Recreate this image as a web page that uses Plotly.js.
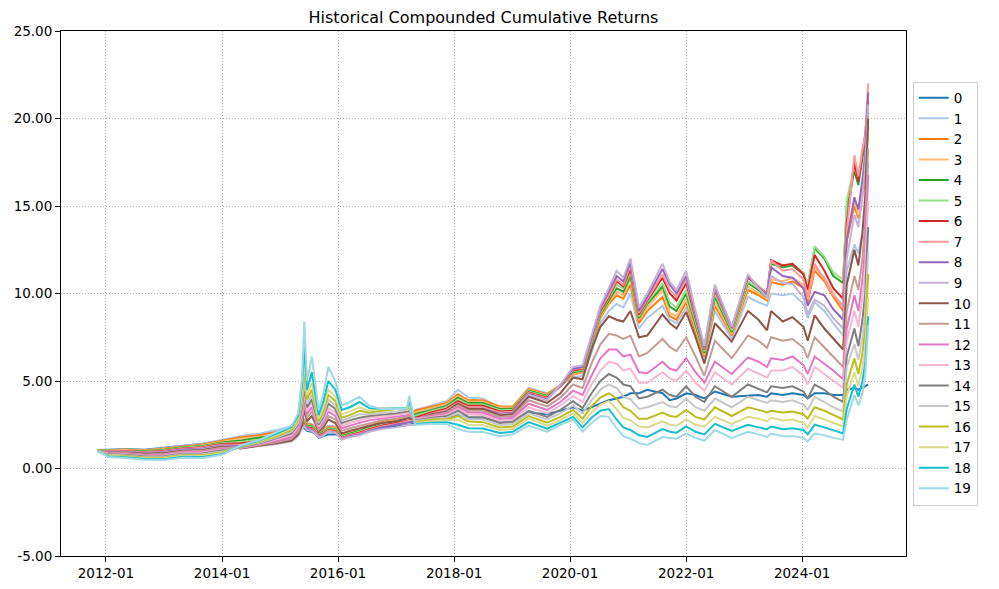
<!DOCTYPE html>
<html>
<head>
<meta charset="utf-8">
<script src="https://cdn.plot.ly/plotly-3.0.1.min.js"></script>
<style>html,body{margin:0;padding:0;background:#fff;}#chart{width:999px;height:589px;}</style>
</head>
<body>
<div id="chart"></div>
<script>
const dates = ["2011-11-10","2012-01-15","2012-05-01","2012-09-01","2013-01-01","2013-05-01","2013-09-01","2014-01-01","2014-05-01","2014-09-01",
"2014-12-15","2015-03-15","2015-04-25","2015-05-20","2015-06-03","2015-06-20","2015-07-20","2015-08-10","2015-09-01","2015-10-01",
"2015-11-01","2015-12-15","2016-01-25","2016-03-15","2016-05-15","2016-07-15","2016-10-01","2017-01-01","2017-03-10","2017-03-25",
"2017-05-01","2017-08-15","2017-11-15","2018-01-25","2018-04-01","2018-07-01","2018-10-15","2019-01-05","2019-04-15","2019-08-10",
"2019-11-01","2020-01-20","2020-03-20","2020-05-15","2020-07-10","2020-09-01","2020-10-20","2020-12-01","2021-01-15","2021-03-10",
"2021-05-01","2021-08-05","2021-09-20","2021-11-01","2022-01-01","2022-03-01","2022-04-25","2022-07-01","2022-10-15","2023-01-25",
"2023-04-01","2023-05-25","2023-06-20","2023-09-01","2023-11-01","2024-01-10","2024-02-05","2024-03-20","2024-05-20","2024-07-15",
"2024-09-15","2024-10-08","2024-11-25","2024-12-20","2025-01-15","2025-02-01","2025-02-20"];

const s0 = [1.04,1.08,1.12,1.07,1.18,1.32,1.42,1.60,1.78,1.90, 2.08,2.25,2.45,2.50,2.30,2.15,2.10,2.00,1.75,1.85, 1.95,1.95,1.80,1.90,2.00,2.15,2.30,2.40,2.50,2.50, 2.60,2.75,2.90,3.10,2.90,2.90,2.70,2.75,3.20,3.10, 3.30,3.50,3.30,3.50,3.70,3.90,4.00,4.10,4.30,4.30, 4.50,4.30,3.90,4.00,4.30,4.20,4.00,4.40,4.10,4.15, 4.20,4.10,4.30,4.20,4.30,4.20,4.00,4.30,4.30,4.20, 4.20,4.50,4.60,4.50,4.60,4.70,4.80];
const s1 = [1.04,1.07,1.10,1.05,1.16,1.31,1.42,1.64,1.86,2.00, 2.20,2.40,2.70,2.75,2.80,2.60,2.55,2.40,2.10,2.25, 2.45,2.40,2.00,2.15,2.30,2.50,2.70,2.85,3.00,3.00, 3.35,3.60,3.85,4.50,4.05,4.00,3.50,3.50,4.60,4.30, 4.75,5.20,5.30,6.60,8.30,9.00,9.40,9.20,10.00,8.00, 8.60,9.30,8.50,8.30,9.20,7.60,6.30,9.00,7.40,9.80, 9.50,9.30,10.00,9.90,10.00,9.40,8.60,9.50,9.00,8.30, 7.60,11.30,12.80,12.30,13.50,14.50,17.50];
const s2 = [1.03,1.05,1.08,1.03,1.13,1.27,1.37,1.58,1.78,1.92, 2.10,2.30,2.60,2.70,2.75,2.55,2.50,2.35,2.05,2.20, 2.40,2.35,1.95,2.10,2.25,2.45,2.65,2.80,2.95,2.95, 3.30,3.52,3.75,4.25,3.90,3.90,3.55,3.55,4.55,4.25, 4.75,5.35,5.50,6.90,8.60,9.40,9.90,9.70,10.50,8.30, 9.00,9.80,8.70,8.50,9.50,7.80,6.40,9.30,7.60,10.20, 9.90,9.60,10.65,10.50,10.70,10.30,9.50,11.30,10.70,9.80, 9.00,13.00,15.00,14.30,15.50,16.50,19.50];
const s3 = [1.03,1.04,1.06,1.00,1.10,1.24,1.33,1.53,1.70,1.83, 2.00,2.20,2.50,2.60,2.70,2.50,2.45,2.30,2.00,2.15, 2.35,2.30,1.90,2.05,2.20,2.40,2.60,2.75,2.90,2.90, 3.20,3.45,3.67,4.15,3.82,3.82,3.48,3.48,4.50,4.20, 4.72,5.40,5.55,7.00,8.70,9.50,10.10,9.90,10.80,8.50, 9.20,10.20,8.90,8.70,9.70,8.00,6.50,9.50,7.70,10.40, 10.00,9.70,10.80,10.70,10.90,10.50,9.70,11.50,10.90,10.00, 9.20,13.20,15.30,14.50,15.70,16.80,19.80];
const s4 = [1.03,1.02,1.04,0.98,1.07,1.21,1.29,1.48,1.60,1.74, 1.90,2.10,2.40,2.55,2.65,2.45,2.40,2.25,1.96,2.10, 2.30,2.25,1.85,2.00,2.15,2.35,2.55,2.70,2.85,2.85, 3.10,3.38,3.58,4.05,3.74,3.74,3.40,3.42,4.45,4.15, 4.70,5.50,5.60,7.10,8.80,9.60,10.30,10.10,11.00,8.60, 9.40,10.40,9.25,9.00,10.00,8.20,6.60,9.80,7.80,10.60, 10.20,9.80,11.70,11.50,11.60,11.10,10.40,12.60,12.00,11.00, 10.60,15.00,17.00,16.20,17.80,18.50,20.30];
const s5 = [1.03,1.01,1.02,0.96,1.04,1.18,1.26,1.44,1.52,1.65, 1.80,2.00,2.30,2.50,2.60,2.40,2.35,2.20,1.92,2.05, 2.25,2.20,1.80,1.95,2.10,2.30,2.50,2.65,2.80,2.80, 3.00,3.30,3.50,3.95,3.66,3.66,3.33,3.36,4.40,4.10, 4.68,5.55,5.65,7.20,8.90,9.70,10.50,10.30,11.20,8.70, 9.50,10.60,9.50,9.20,10.20,8.40,6.70,10.00,7.90,10.70, 10.30,9.90,11.80,11.60,11.70,11.20,10.50,12.70,12.10,11.20, 10.80,15.30,17.30,16.50,18.30,18.80,20.50];
const s6 = [1.02,0.99,1.00,0.93,1.01,1.14,1.22,1.40,1.44,1.56, 1.70,1.90,2.20,2.45,2.55,2.35,2.30,2.15,1.88,2.00, 2.20,2.15,1.75,1.90,2.05,2.25,2.45,2.60,2.75,2.75, 2.90,3.22,3.42,3.85,3.58,3.58,3.26,3.30,4.35,4.05, 4.70,5.60,5.70,7.30,9.00,9.80,10.70,10.40,11.40,8.80, 9.60,10.90,10.00,9.60,10.60,8.60,6.80,10.20,8.00,10.90, 10.40,10.00,11.90,11.60,11.70,11.10,10.20,12.20,11.30,10.30, 9.70,14.00,17.50,16.40,18.00,19.10,21.00];
const s7 = [1.02,0.98,0.98,0.91,0.98,1.11,1.18,1.36,1.36,1.47, 1.60,1.80,2.10,2.40,2.50,2.30,2.25,2.10,1.84,1.95, 2.15,2.10,1.72,1.87,2.00,2.20,2.40,2.55,2.70,2.70, 2.80,3.15,3.35,3.75,3.50,3.50,3.20,3.24,4.30,4.00, 4.72,5.65,5.75,7.35,9.10,9.90,10.80,10.50,11.60,8.90, 9.70,11.10,10.20,9.80,10.80,8.70,6.85,10.30,8.00,11.00, 10.40,9.95,11.90,11.30,11.40,10.80,9.80,11.70,10.80,9.90, 9.30,13.50,17.90,16.70,18.20,19.00,22.00];
const s8 = [1.02,0.96,0.96,0.88,0.95,1.08,1.14,1.31,1.28,1.38, 1.50,1.70,2.00,2.35,2.45,2.25,2.20,2.05,1.80,1.90, 2.10,2.05,1.68,1.84,1.95,2.15,2.35,2.50,2.62,2.62, 2.70,3.05,3.27,3.65,3.42,3.42,3.13,3.18,4.25,3.95, 4.75,5.70,5.80,7.45,9.20,10.10,11.00,10.70,11.80,9.00, 9.80,11.40,10.50,10.00,11.00,8.85,6.90,10.40,8.05,11.00, 10.35,9.90,11.50,11.00,10.90,10.30,9.30,10.10,9.90,9.10, 8.50,13.00,15.50,14.80,16.50,18.00,21.50];
const s9 = [1.02,0.95,0.94,0.86,0.92,1.05,1.10,1.27,1.18,1.28, 1.40,1.55,1.85,2.30,2.40,2.20,2.15,2.00,1.78,1.88, 2.10,2.05,1.65,1.80,1.90,2.10,2.25,2.35,2.50,2.50, 2.50,2.95,3.20,3.55,3.35,3.35,3.08,3.12,4.20,3.90, 4.80,5.80,5.90,7.60,9.30,10.30,11.30,10.90,12.00,9.20, 10.00,11.70,10.65,10.20,11.30,9.00,7.00,10.50,8.10,11.10, 10.30,9.80,11.00,10.60,10.55,9.80,8.80,9.65,9.30,8.60, 8.00,12.00,14.50,13.80,15.50,17.20,20.80];
const s10 = [1.02,0.93,0.92,0.84,0.88,1.02,1.06,1.24,1.15,1.30, 1.45,1.60,1.95,2.50,3.40,2.70,3.00,2.60,2.10,2.35, 2.80,2.60,2.00,2.15,2.30,2.45,2.60,2.70,2.85,2.90, 2.80,3.10,3.25,3.70,3.40,3.40,3.05,3.10,4.10,3.75, 4.30,5.20,5.10,6.80,8.10,8.70,8.50,8.40,9.00,7.50, 7.60,8.80,8.30,8.00,8.95,7.50,6.00,8.30,7.25,9.00, 8.50,7.90,9.00,8.40,8.65,8.10,7.30,8.75,8.00,7.40, 6.80,10.50,12.50,11.60,13.50,15.50,20.00];
const s11 = [1.02,0.90,0.88,0.80,0.83,0.97,1.01,1.18,1.17,1.34, 1.52,1.70,2.10,2.75,3.75,2.90,3.25,2.80,2.20,2.50, 3.00,2.80,2.15,2.30,2.45,2.60,2.75,2.85,2.95,3.00, 2.85,3.05,3.20,3.60,3.30,3.30,2.95,3.00,3.90,3.55, 4.05,4.80,4.60,6.00,7.10,7.70,7.60,7.40,7.60,6.40, 6.60,7.40,6.95,6.70,7.50,6.40,5.30,7.30,6.30,7.60, 7.30,6.90,7.50,7.30,7.40,6.90,6.30,7.50,6.90,6.40, 5.80,9.00,11.00,10.20,12.00,14.00,18.30];
const s12 = [1.01,0.87,0.85,0.76,0.79,0.93,0.96,1.13,1.18,1.38, 1.59,1.80,2.25,3.00,4.10,3.10,3.50,3.00,2.30,2.65, 3.25,3.00,2.30,2.45,2.60,2.75,2.85,2.95,3.05,3.10, 2.85,3.00,3.12,3.50,3.20,3.18,2.83,2.90,3.70,3.35, 3.80,4.45,4.20,5.30,6.30,6.80,6.80,6.40,6.50,5.50, 5.45,6.10,5.70,5.60,6.30,5.50,4.90,6.10,5.40,6.35, 6.10,5.80,6.30,6.20,6.40,5.90,5.40,6.40,6.00,5.60, 5.10,8.00,9.90,9.00,10.80,12.60,16.80];
const s13 = [1.01,0.84,0.81,0.72,0.74,0.88,0.91,1.07,1.20,1.42, 1.66,1.90,2.40,3.25,4.40,3.30,3.75,3.15,2.40,2.80, 3.45,3.20,2.45,2.60,2.75,2.90,2.95,3.05,3.15,3.20, 2.80,2.95,3.05,3.40,3.08,3.06,2.72,2.78,3.50,3.15, 3.60,4.15,3.80,4.80,5.60,6.10,6.00,5.60,5.70,4.90, 4.90,5.50,5.15,5.00,5.60,4.90,4.45,5.50,4.80,5.70, 5.45,5.20,5.60,5.60,5.80,5.30,4.80,5.80,5.40,5.00, 4.60,7.30,9.00,8.10,9.80,11.50,15.30];
const s14 = [1.01,0.81,0.78,0.68,0.70,0.84,0.86,1.02,1.22,1.46, 1.73,2.00,2.50,3.50,4.70,3.50,3.95,3.30,2.50,2.95, 3.70,3.40,2.60,2.75,2.90,3.00,3.05,3.15,3.25,3.30, 2.75,2.90,2.98,3.30,2.95,2.93,2.60,2.66,3.30,2.95, 3.35,3.85,3.45,4.30,5.00,5.40,5.20,4.80,4.70,4.00, 4.10,4.50,4.20,4.10,4.70,4.10,3.80,4.70,4.10,4.80, 4.55,4.35,4.70,4.60,4.70,4.40,4.00,4.80,4.50,4.10, 3.80,6.40,8.00,7.00,8.50,10.00,13.80];
const s15 = [1.00,0.78,0.74,0.64,0.66,0.80,0.81,0.97,1.24,1.50, 1.80,2.10,2.60,3.80,5.10,3.70,4.20,3.50,2.60,3.10, 3.95,3.60,2.75,2.90,3.10,3.10,3.15,3.25,3.35,3.40, 2.70,2.85,2.90,3.15,2.82,2.80,2.48,2.54,3.15,2.80, 3.15,3.60,3.15,3.90,4.50,4.80,4.60,4.10,3.95,3.40, 3.50,3.80,3.55,3.50,4.00,3.50,3.30,4.00,3.50,4.10, 3.90,3.75,3.90,3.80,3.90,3.65,3.35,4.10,3.80,3.50, 3.25,5.80,7.10,6.20,7.50,8.90,12.40];
const s16 = [1.00,0.75,0.71,0.61,0.62,0.76,0.76,0.92,1.26,1.54, 1.87,2.20,2.75,4.10,5.60,3.95,4.50,3.70,2.70,3.30, 4.20,3.85,2.90,3.05,3.30,3.20,3.30,3.40,3.42,3.50, 2.65,2.80,2.82,3.00,2.68,2.65,2.34,2.40,3.00,2.62, 2.95,3.35,2.85,3.55,4.05,4.30,4.00,3.50,3.30,2.85, 2.85,3.20,3.00,2.95,3.35,2.95,2.80,3.50,3.00,3.50, 3.35,3.20,3.30,3.20,3.25,3.10,2.85,3.50,3.30,3.05, 2.80,4.80,6.30,5.40,6.60,7.90,11.10];
const s17 = [1.00,0.72,0.67,0.57,0.58,0.71,0.71,0.87,1.28,1.58, 1.94,2.30,2.85,4.40,6.20,4.20,4.90,3.95,2.85,3.50, 4.50,4.10,3.10,3.25,3.50,3.30,3.45,3.45,3.45,3.60, 2.60,2.70,2.74,2.80,2.50,2.48,2.20,2.26,2.85,2.45, 2.78,3.15,2.60,3.20,3.65,3.85,3.40,2.90,2.75,2.40, 2.35,2.70,2.50,2.45,2.80,2.50,2.40,2.95,2.55,2.95, 2.85,2.70,2.90,2.75,2.80,2.60,2.35,3.00,2.80,2.60, 2.40,4.10,5.50,4.70,5.80,6.90,9.80];
const s18 = [0.99,0.69,0.64,0.54,0.53,0.67,0.66,0.82,1.30,1.62, 2.01,2.38,3.00,4.80,7.00,4.50,5.50,4.30,3.05,3.85, 5.00,4.50,3.35,3.50,3.80,3.45,3.42,3.43,3.43,3.90, 2.55,2.62,2.65,2.50,2.30,2.28,2.03,2.10,2.65,2.28, 2.62,2.95,2.35,2.90,3.30,3.40,2.80,2.35,2.20,1.90, 1.80,2.25,2.10,2.05,2.40,2.10,1.95,2.55,2.15,2.50, 2.35,2.25,2.40,2.25,2.30,2.20,1.95,2.50,2.35,2.20, 2.00,3.40,4.80,4.10,5.00,6.00,8.70];
const s19 = [0.99,0.66,0.60,0.50,0.48,0.62,0.60,0.78,1.33,1.66, 2.10,2.45,3.15,5.20,8.40,5.00,6.40,4.80,3.35,4.30, 5.80,5.00,3.60,3.80,4.10,3.60,3.40,3.40,3.40,4.15, 2.50,2.55,2.55,2.25,2.10,2.08,1.85,1.95,2.45,2.10, 2.50,2.80,2.10,2.60,3.00,2.95,2.30,1.85,1.70,1.45, 1.35,1.80,1.75,1.70,2.00,1.75,1.60,2.20,1.75,2.10, 1.95,1.80,2.00,1.85,1.85,1.75,1.55,2.00,1.90,1.75, 1.65,2.80,4.20,3.60,4.30,5.30,8.20];

const seriesNames = ["0","1","2","3","4","5","6","7","8","9","10","11","12","13","14","15","16","17","18","19"];
const seriesValues = [s0,s1,s2,s3,s4,s5,s6,s7,s8,s9,s10,s11,s12,s13,s14,s15,s16,s17,s18,s19];
const colors = ["#1f77b4","#aec7e8","#ff7f0e","#ffbb78","#2ca02c","#98df8a","#d62728","#ff9896","#9467bd","#c5b0d5",
"#8c564b","#c49c94","#e377c2","#f7b6d2","#7f7f7f","#c7c7c7","#bcbd22","#dbdb8d","#17becf","#9edae5"];

const xTickVals = ["2012-01-01","2014-01-01","2016-01-01","2018-01-01","2020-01-01","2022-01-01","2024-01-01"];
const xTickText = ["2012-01","2014-01","2016-01","2018-01","2020-01","2022-01","2024-01"];
const yTickVals = [-5,0,5,10,15,20,25];
const yTickText = ["-5.00","0.00","5.00","10.00","15.00","20.00","25.00"];

const traces = seriesValues.map((v, i) => ({
  x: dates, y: v, type: "scatter", mode: "lines", name: seriesNames[i],
  line: {color: colors[i], width: 2}
}));

const font = {family: "DejaVu Sans, sans-serif", size: 13.5, color: "#000"};
const layout = {
  width: 999, height: 589,
  margin: {l: 61, r: 93, t: 31, b: 33, pad: 0},
  paper_bgcolor: "#fff", plot_bgcolor: "#fff",
  font: font,
  title: {text: "Historical Compounded Cumulative Returns", font: {family: "DejaVu Sans, sans-serif", size: 16, color: "#000"},
          x: 0.5, xref: "paper", xanchor: "center", y: 1 - 17/589, yref: "container", yanchor: "middle"},
  showlegend: true,
  legend: {x: 1.008, xanchor: "left", y: 0.5, yanchor: "middle", bordercolor: "#cccccc", borderwidth: 1,
           bgcolor: "#fff", font: font, tracegroupgap: 0},
  xaxis: {type: "date", range: ["2011-03-24", "2025-10-16"], tickmode: "array", tickvals: xTickVals, ticktext: xTickText,
          ticks: "outside", ticklen: 5, tickwidth: 1, tickcolor: "#000", showline: true, mirror: true, linecolor: "#000", linewidth: 1,
          showgrid: true, gridcolor: "#b0b0b0", griddash: "1px,2px", gridwidth: 1, zeroline: false, tickfont: font},
  yaxis: {range: [-5, 25], tickmode: "array", tickvals: yTickVals, ticktext: yTickText,
          ticks: "outside", ticklen: 5, tickwidth: 1, tickcolor: "#000", showline: true, mirror: true, linecolor: "#000", linewidth: 1,
          showgrid: true, gridcolor: "#b0b0b0", griddash: "1px,2px", gridwidth: 1, zeroline: false, tickfont: font},
  hovermode: false
};
Plotly.newPlot("chart", traces, layout, {staticPlot: true, displayModeBar: false});
</script>
</body>
</html>
